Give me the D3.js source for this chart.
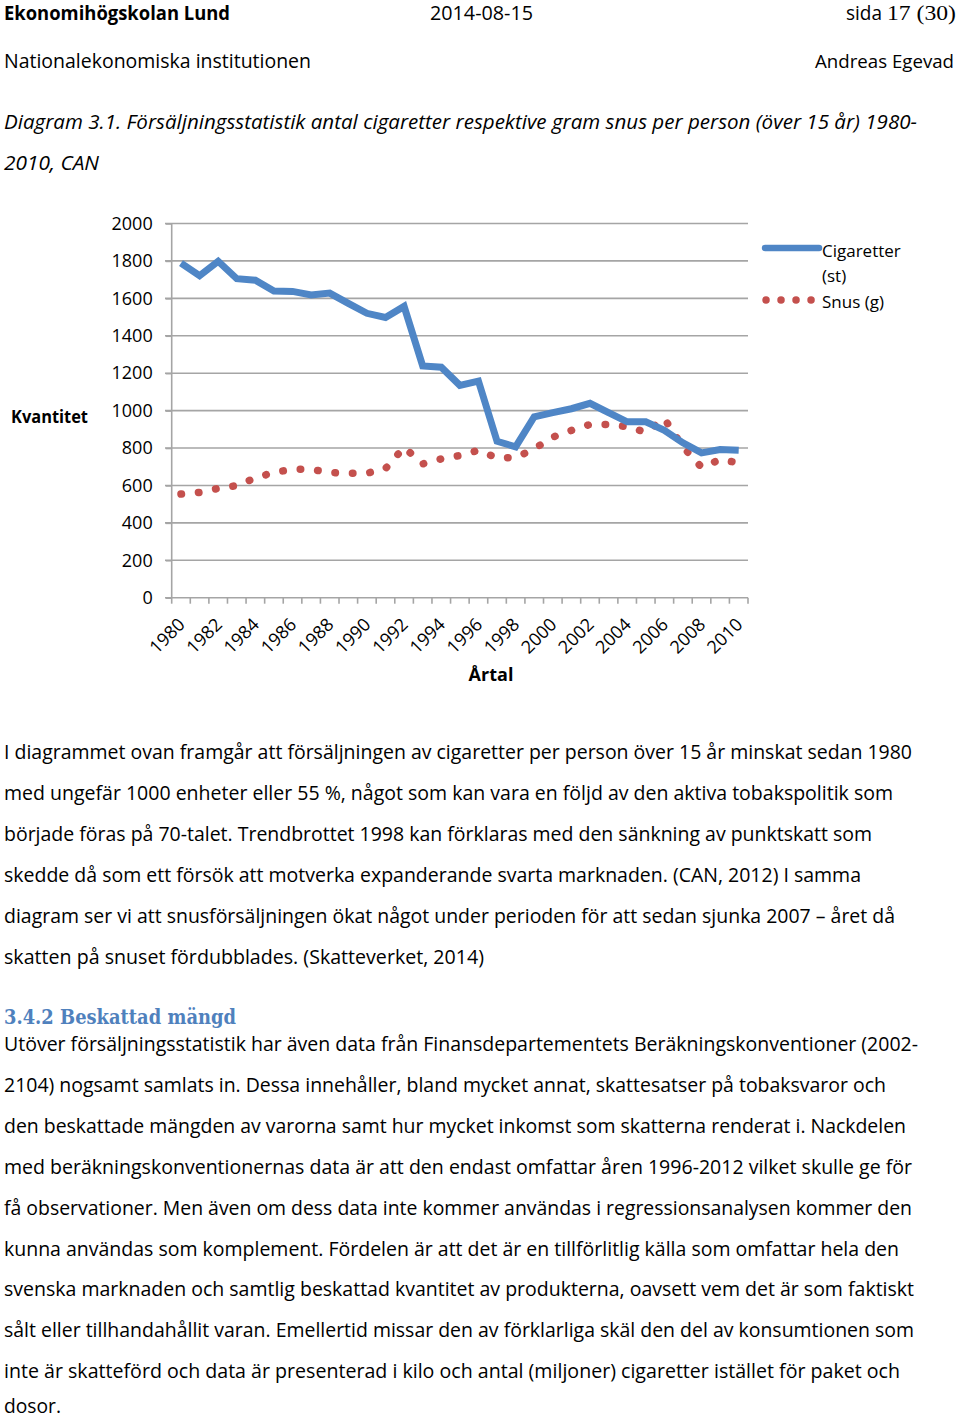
<!DOCTYPE html>
<html>
<head>
<meta charset="utf-8">
<script src="https://cdn.jsdelivr.net/npm/d3@7"></script>
<style>
  html, body { margin: 0; padding: 0; background: #fff; }
  svg { display: block; }
  text { font-family: "Open Sans", "Noto Sans", sans-serif; fill: #000; }
</style>
</head>
<body>
<svg id="page" width="960" height="1420"></svg>
<script>
// ---- data ----
const years = d3.range(1980, 2011).map(String);
const cigaretter = [1788,1721,1798,1705,1697,1639,1637,1618,1628,1573,1520,1498,1557,1239,1232,1135,1158,836,806,967,989,1010,1039,989,940,940,895,828,774,792,788];
const snus = [554,563,584,599,640,670,686,686,669,665,665,690,804,715,742,760,788,747,749,796,858,894,926,926,914,885,957,806,697,738,721];
const yTicks = [0,200,400,600,800,1000,1200,1400,1600,1800,2000];
const xTickLabels = years.filter((d,i) => i % 2 === 0);
const seriesNames = ["Cigaretter", "(st)", "Snus (g)"];

const para1 = [
  ["I diagrammet ovan framgår att försäljningen av cigaretter per person över 15 år minskat sedan 1980", 912, 752],
  ["med ungefär 1000 enheter eller 55 %, något som kan vara en följd av den aktiva tobakspolitik som", 893, 793],
  ["började föras på 70-talet. Trendbrottet 1998 kan förklaras med den sänkning av punktskatt som", 872, 834],
  ["skedde då som ett försök att motverka expanderande svarta marknaden. (CAN, 2012) I samma", 861, 875],
  ["diagram ser vi att snusförsäljningen ökat något under perioden för att sedan sjunka 2007 – året då", 895, 916],
  ["skatten på snuset fördubblades. (Skatteverket, 2014)", 484, 957]
];
const para2 = [
  ["Utöver försäljningsstatistik har även data från Finansdepartementets Beräkningskonventioner (2002-", 918, 1044],
  ["2104) nogsamt samlats in. Dessa innehåller, bland mycket annat, skattesatser på tobaksvaror och", 886, 1085],
  ["den beskattade mängden av varorna samt hur mycket inkomst som skatterna renderat i. Nackdelen", 906, 1126],
  ["med beräkningskonventionernas data är att den endast omfattar åren 1996-2012 vilket skulle ge för", 912, 1167],
  ["få observationer. Men även om dess data inte kommer användas i regressionsanalysen kommer den", 912, 1208],
  ["kunna användas som komplement. Fördelen är att det är en tillförlitlig källa som omfattar hela den", 899, 1249],
  ["svenska marknaden och samtlig beskattad kvantitet av produkterna, oavsett vem det är som faktiskt", 914, 1289],
  ["sålt eller tillhandahållit varan. Emellertid missar den av förklarliga skäl den del av konsumtionen som", 914, 1330],
  ["inte är skatteförd och data är presenterad i kilo och antal (miljoner) cigaretter istället för paket och", 900, 1371],
  ["dosor.", 61, 1406]
];

const svg = d3.select("#page");

function fitText(str, x0, x1, cy, opts = {}) {
  const t = svg.append("text")
    .attr("x", x0)
    .attr("y", cy + (opts.dy !== undefined ? opts.dy : 7))
    .attr("font-size", opts.size || 20)
    .attr("textLength", x1 - x0)
    .attr("lengthAdjust", "spacingAndGlyphs")
    .text(str);
  if (opts.weight) t.attr("font-weight", opts.weight);
  if (opts.style) t.attr("font-style", opts.style);
  if (opts.family) t.style("font-family", opts.family);
  if (opts.fill) t.style("fill", opts.fill);
  return t;
}

// ---- header ----
fitText("Ekonomihögskolan Lund", 4, 230, 13, {weight: "bold"});
fitText("2014-08-15", 430, 533, 13);
fitText("sida", 846, 882, 13);
fitText("17 (30)", 887, 956, 13, {family: "'Liberation Serif', 'DejaVu Serif', serif", size: 22});
fitText("Nationalekonomiska institutionen", 4, 311, 61);
fitText("Andreas Egevad", 815, 954, 61, {size: 19});
fitText("Diagram 3.1. Försäljningsstatistik antal cigaretter respektive gram snus per person (över 15 år) 1980-", 4, 917, 122, {style: "italic"});
fitText("2010, CAN", 4, 99, 163, {style: "italic"});

// ---- chart ----
const x = d3.scaleBand().domain(years).range([171.7, 748]);
const y = d3.scaleLinear().domain([0, 2000]).range([597.7, 223.5]);
const gridColor = "#a5a5a5";

const g = svg.append("g");

// gridlines
g.selectAll("line.grid").data(yTicks.filter(d => d > 0)).enter().append("line")
  .attr("x1", 165).attr("x2", 748)
  .attr("y1", d => y(d)).attr("y2", d => y(d))
  .attr("stroke", gridColor).attr("stroke-width", 1.6);

// y axis
const yAxis = d3.axisLeft(y).tickValues(yTicks).tickFormat(d3.format("d")).tickSize(6).tickPadding(13);
const ya = g.append("g").attr("transform", "translate(171.7,0)").call(yAxis);
ya.select(".domain").attr("stroke", gridColor).attr("stroke-width", 1.6).attr("d", `M0,${y(2000)}V${y(0)}`);
ya.selectAll(".tick line").attr("stroke", gridColor).attr("stroke-width", 1.6);
ya.selectAll(".tick text").attr("font-size", 18).attr("fill", "#000")
  .style("font-family", "'Open Sans', 'Noto Sans', sans-serif");

// x axis: tick marks at category boundaries
const xAxisG = g.append("g");
xAxisG.append("line")
  .attr("x1", 165).attr("x2", 748)
  .attr("y1", y(0)).attr("y2", y(0))
  .attr("stroke", gridColor).attr("stroke-width", 1.6);
const boundaries = years.map(d => x(d)).concat([x(years[years.length - 1]) + x.bandwidth()]);
xAxisG.selectAll("line.tk").data(boundaries).enter().append("line")
  .attr("x1", d => d).attr("x2", d => d)
  .attr("y1", y(0)).attr("y2", y(0) + 6)
  .attr("stroke", gridColor).attr("stroke-width", 1.6);
xAxisG.selectAll("text.xl").data(xTickLabels).enter().append("text")
  .attr("text-anchor", "end")
  .attr("font-size", 18)
  .attr("transform", d => `translate(${x(d) + x.bandwidth() / 2 + 5},${y(0) + 28}) rotate(-45)`)
  .text(d => d);

// axis titles
svg.append("text").attr("x", 11).attr("y", 423).attr("font-size", 17).attr("font-weight", "bold")
  .attr("textLength", 77).attr("lengthAdjust", "spacingAndGlyphs").text("Kvantitet");
svg.append("text").attr("x", 491).attr("y", 681).attr("font-size", 18).attr("font-weight", "bold")
  .attr("text-anchor", "middle").text("Årtal");

// lines
const cx = d => x(d) + x.bandwidth() / 2;
const line = d3.line().x(d => cx(d[0])).y(d => y(d[1]));
const blue = "#4f86c6";
const red = "#c4504d";

g.append("path")
  .datum(years.map((d, i) => [d, snus[i]]))
  .attr("d", line)
  .attr("fill", "none")
  .attr("stroke", red).attr("stroke-width", 7.5)
  .attr("stroke-linecap", "round")
  .attr("stroke-dasharray", "0.5,17");

g.append("path")
  .datum(years.map((d, i) => [d, cigaretter[i]]))
  .attr("d", line)
  .attr("fill", "none")
  .attr("stroke", blue).attr("stroke-width", 7)
  .attr("stroke-linejoin", "miter");

// legend
const lg = svg.append("g");
lg.append("line").attr("x1", 765).attr("x2", 819).attr("y1", 248).attr("y2", 248)
  .attr("stroke", blue).attr("stroke-width", 6.5).attr("stroke-linecap", "round");
lg.append("line").attr("x1", 766).attr("x2", 812).attr("y1", 300).attr("y2", 300)
  .attr("stroke", red).attr("stroke-width", 7.5).attr("stroke-linecap", "round")
  .attr("stroke-dasharray", "0.01,15");
lg.append("text").attr("x", 822).attr("y", 257).attr("font-size", 17).text(seriesNames[0]);
lg.append("text").attr("x", 822).attr("y", 282).attr("font-size", 17).text(seriesNames[1]);
lg.append("text").attr("x", 822).attr("y", 308).attr("font-size", 17).text(seriesNames[2]);

// ---- body text ----
para1.forEach(([s, x1, cy]) => fitText(s, 4, x1, cy));
fitText("3.4.2 Beskattad mängd", 4, 236, 1017, {weight: "bold", family: "'DejaVu Serif', 'Liberation Serif', serif", fill: "#4f81bd", size: 21});
para2.forEach(([s, x1, cy]) => fitText(s, 4, x1, cy));
</script>
</body>
</html>
